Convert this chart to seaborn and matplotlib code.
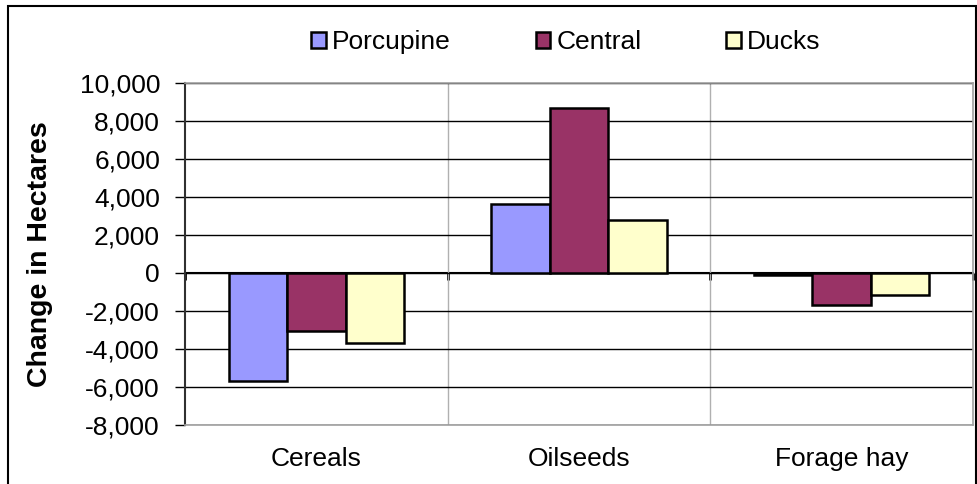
import numpy as np
import pandas as pd
import seaborn as sns
import matplotlib.pyplot as plt
from matplotlib.ticker import FixedLocator, FuncFormatter
from matplotlib.patches import Rectangle

# data
crops = ['Cereals', 'Oilseeds', 'Forage hay']
regions = ['Porcupine', 'Central', 'Ducks']
porcupine = [-5680, 3630, -90]
central = [-3040, 8680, -1670]
ducks = [-3680, 2800, -1140]
colors = ['#9999FF', '#993366', '#FFFFCC']
y_ticks = list(range(-8000, 10001, 2000))

sns.set_theme(style="white")
plt.rcParams['font.family'] = ['Liberation Sans', 'DejaVu Sans']
plt.rcParams['text.color'] = 'black'
plt.rcParams['axes.labelcolor'] = 'black'
plt.rcParams['xtick.color'] = 'black'
plt.rcParams['ytick.color'] = 'black'

rows = []
for region, vals in zip(regions, [porcupine, central, ducks]):
    for crop, v in zip(crops, vals):
        rows.append([crop, region, v])
df = pd.DataFrame(rows, columns=['Crop', 'Region', 'Change'])

fig = plt.figure(figsize=(9.77, 4.84), dpi=100)
ax = fig.add_axes([185 / 977, 59 / 484, 788 / 977, 342 / 484])

sns.barplot(data=df, x='Crop', y='Change', hue='Region', order=crops,
            hue_order=regions, palette=colors, width=2 / 3, gap=0,
            edgecolor='black', linewidth=1.8, saturation=1, ax=ax, zorder=3)

ax.set_xlim(-0.5, 2.5)
ax.set_ylim(-8000, 10000)
ax.set_yticks(y_ticks)
ax.yaxis.set_major_formatter(FuncFormatter(lambda v, p: f'{int(v):,}'))
ax.tick_params(axis='y', which='major', direction='out', length=7, width=1,
               color='black', left=True, labelsize=19, labelcolor='black', pad=11)
ax.tick_params(axis='x', which='major', length=0, labelsize=19,
               labelcolor='black', pad=16)

# horizontal gridlines black, vertical category separators gray
ax.grid(axis='y', color='black', linewidth=1, zorder=0)
ax.xaxis.set_minor_locator(FixedLocator([0.5, 1.5]))
ax.grid(axis='x', which='minor', color='#b0b0b0', linewidth=1, zorder=0)
ax.tick_params(axis='x', which='minor', length=0)
ax.set_axisbelow(True)

# zero axis with small ticks at category boundaries
zero_ax = ax.secondary_xaxis(8000 / 18000)
zero_ax.set_xticks([-0.5, 0.5, 1.5, 2.5])
zero_ax.tick_params(direction='out', length=5, width=2, labelbottom=False,
                    color='black')
zero_ax.spines['bottom'].set_color('black')
zero_ax.spines['bottom'].set_linewidth(1.5)

for side in ['top', 'right', 'bottom']:
    ax.spines[side].set_color('#a0a0a0')
    ax.spines[side].set_linewidth(1.2)
ax.spines['left'].set_color('#303030')
ax.spines['left'].set_linewidth(1.5)

ax.set_xlabel('')
ax.set_ylabel('Change in Hectares', fontsize=20.5, fontweight='bold',
              color='black')
ax.yaxis.set_label_coords(-0.168, 0.5)

handles, labels = ax.get_legend_handles_labels()
ax.legend(handles, labels, loc='center', bbox_to_anchor=(566 / 977, 1 - 42 / 484),
          bbox_transform=fig.transFigure, ncol=3, frameon=False, fontsize=19,
          handlelength=0.55, handleheight=0.55, handletextpad=0.25,
          columnspacing=3.2)

# outer chart frame
fig.patches.append(Rectangle((8 / 977, -0.05), 968 / 977, 1.05 - 6 / 484,
                             transform=fig.transFigure, fill=False,
                             edgecolor='black', linewidth=1.5))

fig.savefig('out.png', dpi=100)
